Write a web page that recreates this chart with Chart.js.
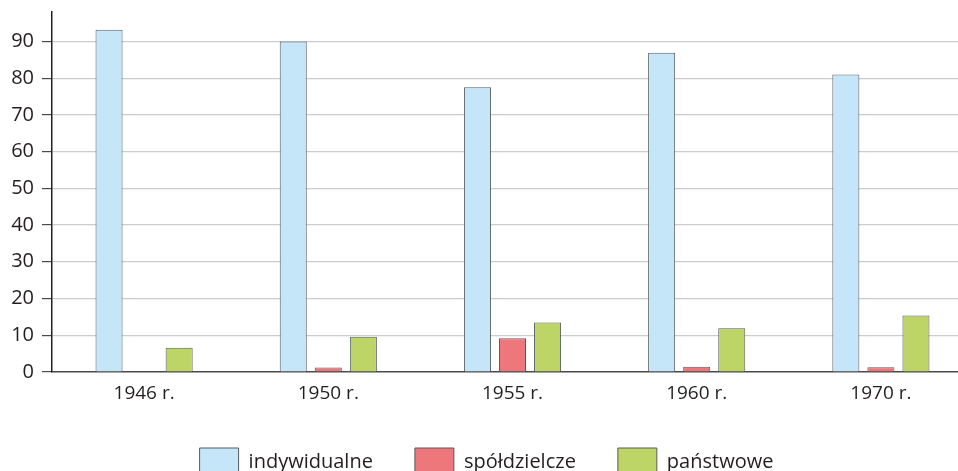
<!DOCTYPE html>
<html>
<head>
<meta charset="utf-8">
<script src="https://cdn.jsdelivr.net/npm/chart.js@4"></script>
<style>
  html, body { margin: 0; padding: 0; background: #fff; overflow: hidden; width: 958px; height: 471px; }
  #wrap { width: 975px; height: 486px; }
</style>
</head>
<body>
<div id="wrap"><canvas id="chart" width="975" height="486"></canvas></div>
<script>
const lata = ["1946 r.", "1950 r.", "1955 r.", "1960 r.", "1970 r."];
const indywidualne = [93.2, 90.0, 77.5, 86.9, 81.0];
const spoldzielcze = [0, 1.2, 9.2, 1.4, 1.3];
const panstwowe = [6.6, 9.6, 13.5, 11.9, 15.4];

const FONT = "'Open Sans', 'Noto Sans', sans-serif";
const TEXT = "#231f20";
const BORDER = "#555c63";

function zestaw(label, data, color) {
  return {
    label: label,
    data: data,
    backgroundColor: color,
    borderColor: BORDER,
    borderWidth: 1,
    categoryPercentage: 0.571,
    barPercentage: 0.771,
  };
}

const ctx = document.getElementById("chart").getContext("2d");
new Chart(ctx, {
  type: "bar",
  data: {
    labels: lata,
    datasets: [
      zestaw("indywidualne", indywidualne, "#c5e6f8"),
      zestaw("spółdzielcze", spoldzielcze, "#ee777b"),
      zestaw("państwowe", panstwowe, "#bdd566"),
    ],
  },
  options: {
    responsive: false,
    animation: false,
    layout: { padding: { top: 12, left: 0, right: 2, bottom: 0 } },
    plugins: {
      tooltip: { enabled: false },
      legend: {
        position: "bottom",
        labels: {
          boxWidth: 39,
          boxHeight: 28,
          padding: 42,
          color: TEXT,
          font: { family: FONT, size: 20 },
        },
      },
    },
    scales: {
      x: {
        grid: { display: false, drawTicks: false },
        border: { display: true, color: "#4a4a4a", width: 1.5 },
        ticks: {
          padding: 10,
          color: TEXT,
          font: { family: FONT, size: 19 },
        },
        afterFit: (scale) => { scale.height = 34; },
      },
      y: {
        min: 0,
        max: 98,
        grid: {
          color: (c) => (c.tick && c.tick.value % 10 === 0 && c.tick.value > 0 ? "#cccccc" : "rgba(0,0,0,0)"),
          tickColor: (c) => (c.tick && c.tick.value % 10 === 0 ? "#4a4a4a" : "rgba(0,0,0,0)"),
          tickLength: 10,
          lineWidth: 1.2,
        },
        border: { display: true, color: "#222222", width: 1.5 },
        ticks: {
          stepSize: 10,
          padding: 8,
          color: TEXT,
          font: { family: FONT, size: 20 },
          callback: (v) => (v % 10 === 0 ? v : ""),
        },
        afterFit: (scale) => {
          scale.width = 52;
          scale.paddingTop = 0;
        },
      },
    },
  },
});
</script>
</body>
</html>
